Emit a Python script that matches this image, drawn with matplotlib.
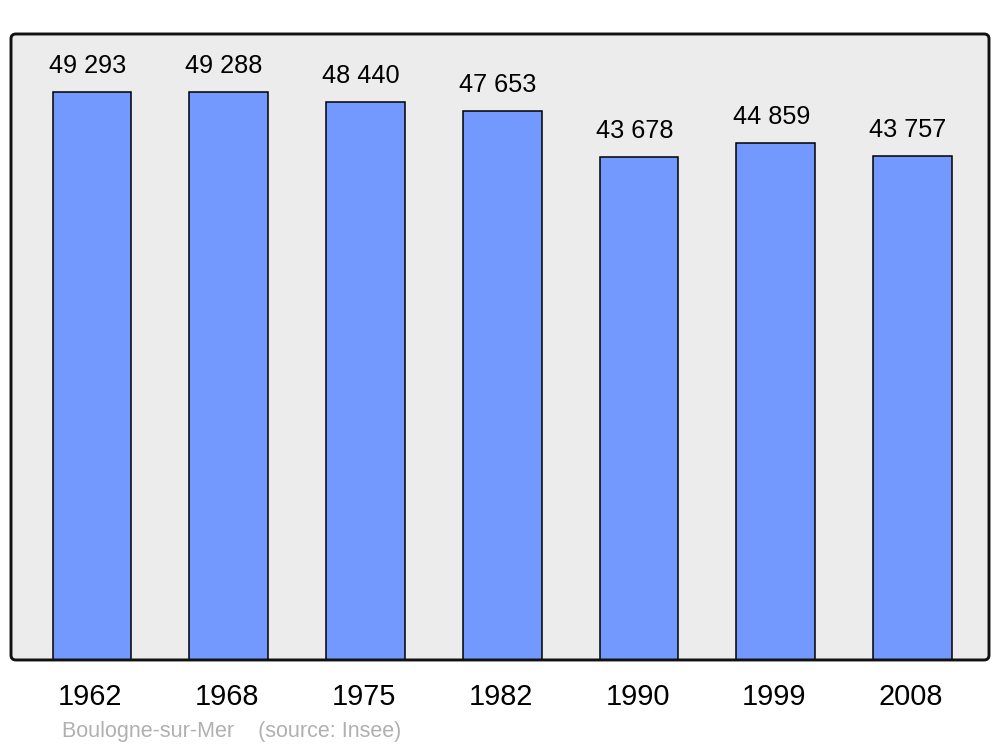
import matplotlib
matplotlib.use("Agg")
import matplotlib.pyplot as plt
from matplotlib.patches import FancyBboxPatch
from matplotlib.transforms import offset_copy

years = ["1962", "1968", "1975", "1982", "1990", "1999", "2008"]
population = [49293, 49288, 48440, 47653, 43678, 44859, 43757]
value_labels = ["49 293", "49 288", "48 440", "47 653", "43 678", "44 859", "43 757"]
source_text = "Boulogne-sur-Mer    (source: Insee)"

plt.rcParams['font.family'] = ['Liberation Sans', 'DejaVu Sans']

fig = plt.figure(figsize=(10, 7.47), dpi=100)
ax = fig.add_axes([0.011, 0.1165, 0.978, 0.838])
ax.patch.set_visible(False)
for s in ax.spines.values():
    s.set_visible(False)

bg = FancyBboxPatch((0, 0), 1, 1, boxstyle="round,pad=0,rounding_size=0.005",
                    mutation_aspect=978/626, transform=ax.transAxes,
                    facecolor="#ececec", edgecolor="none", zorder=0, clip_on=False)
ax.add_patch(bg)
frame = FancyBboxPatch((0, 0), 1, 1, boxstyle="round,pad=0,rounding_size=0.005",
                       mutation_aspect=978/626, transform=ax.transAxes,
                       facecolor="none", edgecolor="#111111", linewidth=2.1,
                       zorder=5, clip_on=False)
ax.add_patch(frame)

x = list(range(len(years)))
ax.bar(x, population, width=0.575, color="#7399ff", edgecolor="#000000",
       linewidth=1.1, zorder=2)

ax.set_xlim(-0.592, 6.559)
ax.set_ylim(0, 54330)
ax.set_yticks([])
ax.set_xticks(x)
ax.set_xticklabels(years, fontsize=20.8)
ax.tick_params(axis='x', length=0, pad=16.5)
for lbl in ax.get_xticklabels():
    lbl.set_transform(offset_copy(lbl.get_transform(), fig=fig, x=-1.5, y=0, units='dots'))

for xi, v, t in zip(x, population, value_labels):
    ax.annotate(t, (xi, v), xytext=(-3.3, 13.7), textcoords='offset points',
                ha='center', va='baseline', fontsize=18.2, color='black', zorder=6)

fig.text(0.062, 0.0134, source_text, fontsize=15.5, color="#b0b0b0",
         ha='left', va='baseline')

fig.savefig("out.png", dpi=100)
